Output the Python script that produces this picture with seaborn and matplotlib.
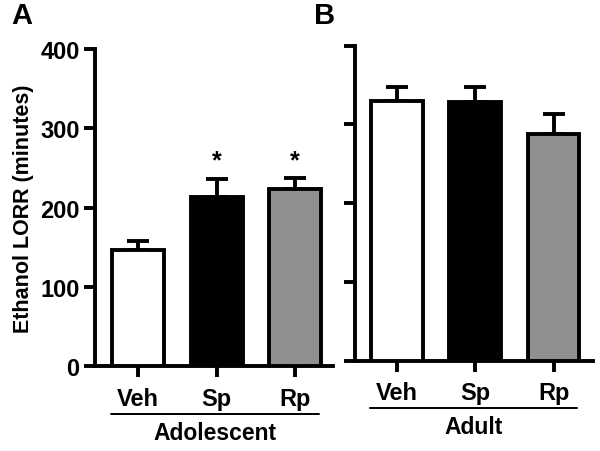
import matplotlib
matplotlib.use("Agg")
import matplotlib.pyplot as plt
import seaborn as sns

# data
groups = ["Veh", "Sp", "Rp"]
bar_colors = ["white", "black", "#8f8f8f"]
adolescent_mean = [146, 213, 223]
adolescent_sem = [12, 23, 14]
adult_mean = [330, 328, 288]
adult_sem = [18, 19, 25]
adolescent_sig = [False, True, True]

sns.set_theme(style="ticks")
plt.rcParams["font.family"] = ["Liberation Sans", "DejaVu Sans"]
plt.rcParams["font.weight"] = "bold"
for key in ["text.color", "axes.labelcolor", "xtick.color", "ytick.color",
            "axes.edgecolor"]:
    plt.rcParams[key] = "black"

fig = plt.figure(figsize=(6, 4.52), dpi=100)
axA = fig.add_axes([0.158, 0.188, 0.397, 0.701])
axB = fig.add_axes([0.592, 0.200, 0.396, 0.697])

lw = 2.8


def draw_panel(ax, means, sems, group_name, xlim):
    sns.barplot(x=groups, y=means, hue=groups, palette=bar_colors, legend=False,
                edgecolor="black", linewidth=lw, width=0.66, ax=ax, zorder=3)
    ax.errorbar(range(len(groups)), means, yerr=[[0] * len(sems), sems],
                fmt="none", ecolor="black", elinewidth=lw, capsize=8,
                capthick=lw, zorder=2)
    ax.set_ylim(0, 400)
    ax.set_xlim(*xlim)
    ax.set_yticks([0, 100, 200, 300, 400])
    sns.despine(ax=ax)
    for s in ["left", "bottom"]:
        ax.spines[s].set_linewidth(lw)
        ax.spines[s].set_color("black")
    ax.tick_params(axis="both", length=8, width=lw, color="black",
                   labelcolor="black", labelsize=17, direction="out")
    ax.tick_params(axis="x", pad=7)
    ax.tick_params(axis="y", pad=3)
    for lab in ax.get_xticklabels() + ax.get_yticklabels():
        lab.set_fontweight("bold")
    # group underline and name
    tr = ax.get_xaxis_transform()
    ax.plot([-0.34, 2.3], [-0.152, -0.152], color="black", lw=1.4,
            transform=tr, clip_on=False)
    ax.text(0.98, -0.21, group_name, transform=tr, ha="center", va="center",
            fontsize=16.5, fontweight="bold")


draw_panel(axA, adolescent_mean, adolescent_sem, "Adolescent", (-0.55, 2.48))
draw_panel(axB, adult_mean, adult_sem, "Adult", (-0.53, 2.5))

for i, sig in enumerate(adolescent_sig):
    if sig:
        axA.text(i, adolescent_mean[i] + adolescent_sem[i] + 8, "*",
                 ha="center", va="bottom", fontsize=18, fontweight="bold")

axA.set_ylabel("Ethanol LORR (minutes)", fontsize=15.5, fontweight="bold",
               labelpad=4)
axB.set_yticklabels([])

fig.text(0.018, 0.965, "A", fontsize=21, fontweight="bold", va="center")
fig.text(0.523, 0.965, "B", fontsize=21, fontweight="bold", va="center")

fig.savefig("out.png", dpi=100, facecolor="white")
